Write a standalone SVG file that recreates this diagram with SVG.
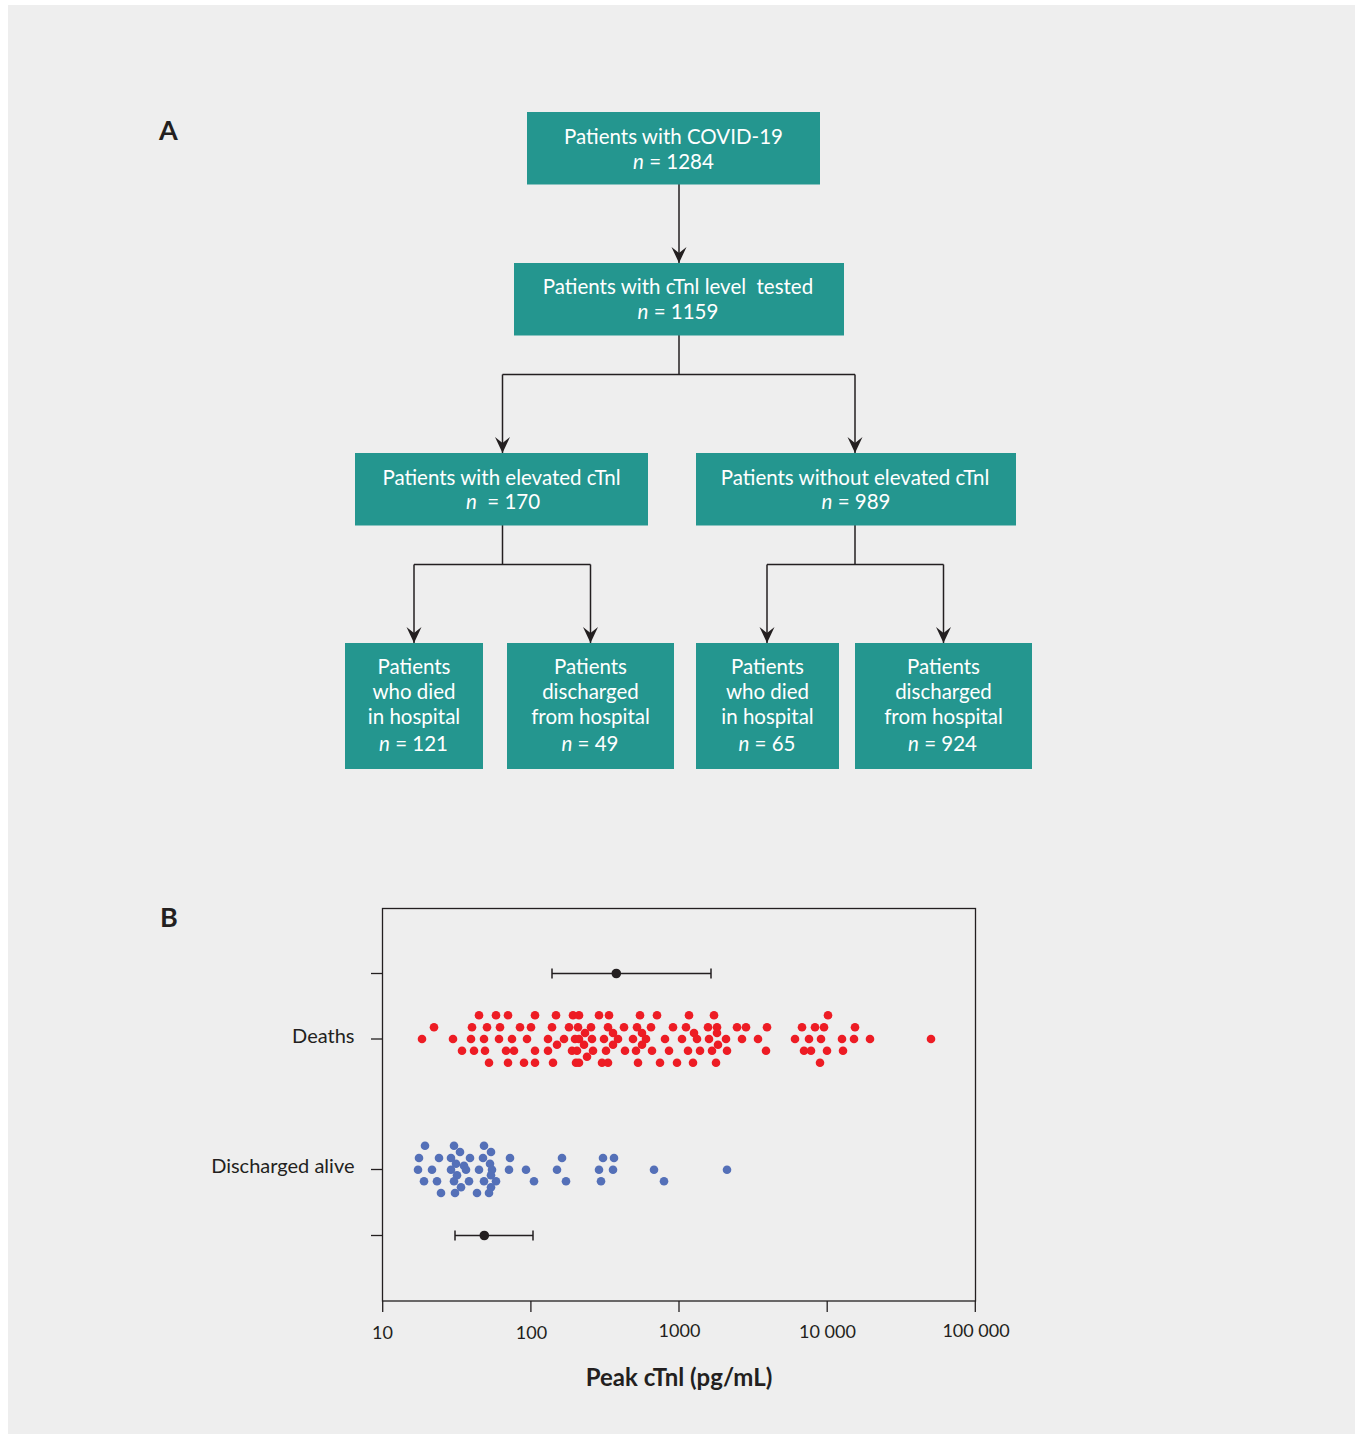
<svg xmlns="http://www.w3.org/2000/svg" width="1355" height="1434" viewBox="0 0 1355 1434">
<defs>
<style>
.bg{fill:#eeeeee}
.box{fill:#24968f}
.bt{font-family:Lato,"Noto Sans","Liberation Sans",sans-serif;font-size:20.5px;fill:#ffffff;text-anchor:middle}
.it{font-style:italic}
.con{fill:none;stroke:#231f20;stroke-width:1.5}
.ax{fill:none;stroke:#231f20;stroke-width:1.3}
.lbl{font-family:Lato,"Noto Sans","Liberation Sans",sans-serif;font-size:20px;fill:#231f20}
.tick{font-family:Lato,"Noto Sans","Liberation Sans",sans-serif;font-size:18px;fill:#231f20;text-anchor:middle}
.pn{font-family:Lato,"Noto Sans","Liberation Sans",sans-serif;font-size:27px;font-weight:bold;fill:#231f20}
.xt{font-family:Lato,"Noto Sans","Liberation Sans",sans-serif;font-size:24px;font-weight:bold;fill:#231f20;text-anchor:middle}
.r{fill:#ed1c24}
.b{fill:#5470b8}
</style>
<marker id="ah" viewBox="0 -8 16 16" refX="16" refY="0" markerWidth="16" markerHeight="16" markerUnits="userSpaceOnUse" orient="auto">
<path d="M16,0 L0,-7.5 L6,0 L0,7.5 Z" fill="#231f20"/>
</marker>
</defs>
<rect x="0" y="0" width="1355" height="1434" fill="#ffffff"/>
<rect class="bg" x="8" y="5" width="1347" height="1429"/>

<text class="pn" x="159" y="140">A</text>
<text class="pn" x="160" y="927">B</text>

<g id="connectors">
<line class="con" x1="679" y1="184" x2="679" y2="263" marker-end="url(#ah)"/>
<polyline class="con" points="679,335 679,374.5"/>
<polyline class="con" points="502.5,374.5 855,374.5"/>
<line class="con" x1="502.5" y1="374.5" x2="502.5" y2="453" marker-end="url(#ah)"/>
<line class="con" x1="855" y1="374.5" x2="855" y2="453" marker-end="url(#ah)"/>
<polyline class="con" points="502.5,525 502.5,564.5"/>
<polyline class="con" points="414,564.5 590.5,564.5"/>
<line class="con" x1="414" y1="564.5" x2="414" y2="643" marker-end="url(#ah)"/>
<line class="con" x1="590.5" y1="564.5" x2="590.5" y2="643" marker-end="url(#ah)"/>
<polyline class="con" points="855,525 855,564.5"/>
<polyline class="con" points="767,564.5 943.5,564.5"/>
<line class="con" x1="767" y1="564.5" x2="767" y2="643" marker-end="url(#ah)"/>
<line class="con" x1="943.5" y1="564.5" x2="943.5" y2="643" marker-end="url(#ah)"/>
</g>

<g id="n-covid">
<rect class="box" x="527" y="112" width="293" height="72.5"/>
<text class="bt" x="673.5" y="144">Patients with COVID-19</text>
<text class="bt" x="673.5" y="168.5"><tspan class="it">n</tspan> = 1284</text>
</g>
<g id="n-tested">
<rect class="box" x="514" y="263" width="330" height="72.5"/>
<text class="bt" x="678" y="294" xml:space="preserve">Patients with cTnl level  tested</text>
<text class="bt" x="678" y="319"><tspan class="it">n</tspan> = 1159</text>
</g>
<g id="n-elevated">
<rect class="box" x="355" y="453" width="293" height="72.5"/>
<text class="bt" x="501.5" y="484.5">Patients with elevated cTnl</text>
<text class="bt" x="503" y="508.5" xml:space="preserve"><tspan class="it">n</tspan>  = 170</text>
</g>
<g id="n-notelevated">
<rect class="box" x="696" y="453" width="320" height="72.5"/>
<text class="bt" x="855" y="484.5">Patients without elevated cTnl</text>
<text class="bt" x="856" y="508.5"><tspan class="it">n</tspan> = 989</text>
</g>
<g id="n-e-died">
<rect class="box" x="345" y="643" width="138" height="126"/>
<text class="bt" x="414" y="674">Patients</text>
<text class="bt" x="414" y="698.5">who died</text>
<text class="bt" x="414" y="724">in hospital</text>
<text class="bt" x="413.5" y="751"><tspan class="it">n</tspan> = 121</text>
</g>
<g id="n-e-disch">
<rect class="box" x="507" y="643" width="167" height="126"/>
<text class="bt" x="590.5" y="674">Patients</text>
<text class="bt" x="590.5" y="698.5">discharged</text>
<text class="bt" x="590.5" y="724">from hospital</text>
<text class="bt" x="590" y="751"><tspan class="it">n</tspan> = 49</text>
</g>
<g id="n-n-died">
<rect class="box" x="696" y="643" width="143" height="126"/>
<text class="bt" x="767.5" y="674">Patients</text>
<text class="bt" x="767.5" y="698.5">who died</text>
<text class="bt" x="767.5" y="724">in hospital</text>
<text class="bt" x="767" y="751"><tspan class="it">n</tspan> = 65</text>
</g>
<g id="n-n-disch">
<rect class="box" x="855" y="643" width="177" height="126"/>
<text class="bt" x="943.5" y="674">Patients</text>
<text class="bt" x="943.5" y="698.5">discharged</text>
<text class="bt" x="943.5" y="724">from hospital</text>
<text class="bt" x="942.5" y="751"><tspan class="it">n</tspan> = 924</text>
</g>

<g id="plot">
<rect x="382.5" y="908.5" width="593" height="392.5" fill="#ffffff" class="ax"/>
<g class="ax">
<line x1="371" y1="973.5" x2="382.5" y2="973.5"/>
<line x1="371" y1="1039" x2="382.5" y2="1039"/>
<line x1="371" y1="1169.5" x2="382.5" y2="1169.5"/>
<line x1="371" y1="1235.5" x2="382.5" y2="1235.5"/>
<line x1="382.7" y1="1301" x2="382.7" y2="1312"/>
<line x1="530.9" y1="1301" x2="530.9" y2="1312"/>
<line x1="679" y1="1301" x2="679" y2="1312"/>
<line x1="827.2" y1="1301" x2="827.2" y2="1312"/>
<line x1="975.3" y1="1301" x2="975.3" y2="1312"/>
</g>
<text class="lbl" x="354.5" y="1042.5" text-anchor="end">Deaths</text>
<text class="lbl" x="354.5" y="1173" text-anchor="end">Discharged alive</text>
<text class="tick" x="382.5" y="1339">10</text>
<text class="tick" x="531.5" y="1339">100</text>
<text class="tick" x="679.5" y="1337">1000</text>
<text class="tick" x="827.5" y="1338">10 000</text>
<text class="tick" x="976" y="1337">100 000</text>
<text class="xt" x="679" y="1386">Peak cTnl (pg/mL)</text>

<g id="errbars" stroke="#231f20" stroke-width="1.5" fill="none">
<line x1="552" y1="973.5" x2="711" y2="973.5"/>
<line x1="552" y1="968.5" x2="552" y2="978.5"/>
<line x1="711" y1="968.5" x2="711" y2="978.5"/>
<line x1="455" y1="1235.5" x2="533" y2="1235.5"/>
<line x1="455" y1="1230.5" x2="455" y2="1240.5"/>
<line x1="533" y1="1230.5" x2="533" y2="1240.5"/>
</g>
<circle cx="616.3" cy="973.5" r="4.8" fill="#231f20"/>
<circle cx="484.3" cy="1235.5" r="4.8" fill="#231f20"/>

<g id="deaths" class="r">
<circle cx="479" cy="1015.3" r="4.3"/><circle cx="496" cy="1015.3" r="4.3"/><circle cx="508" cy="1015.3" r="4.3"/><circle cx="535" cy="1015.3" r="4.3"/><circle cx="556" cy="1015.3" r="4.3"/><circle cx="573" cy="1015.3" r="4.3"/><circle cx="579" cy="1015.3" r="4.3"/><circle cx="599" cy="1015.3" r="4.3"/><circle cx="609" cy="1015.3" r="4.3"/><circle cx="640" cy="1015.3" r="4.3"/><circle cx="657" cy="1015.3" r="4.3"/><circle cx="689" cy="1015.3" r="4.3"/><circle cx="714" cy="1015.3" r="4.3"/><circle cx="828" cy="1015.3" r="4.3"/>
<circle cx="434" cy="1027.3" r="4.3"/><circle cx="472" cy="1027.3" r="4.3"/><circle cx="487" cy="1027.3" r="4.3"/><circle cx="500" cy="1027.3" r="4.3"/><circle cx="520" cy="1027.3" r="4.3"/><circle cx="531" cy="1027.3" r="4.3"/><circle cx="552" cy="1027.3" r="4.3"/><circle cx="569" cy="1027.3" r="4.3"/><circle cx="578" cy="1027.3" r="4.3"/><circle cx="591" cy="1027.3" r="4.3"/><circle cx="608" cy="1027.3" r="4.3"/><circle cx="624" cy="1027.3" r="4.3"/><circle cx="637" cy="1027.3" r="4.3"/><circle cx="651" cy="1027.3" r="4.3"/><circle cx="673" cy="1027.3" r="4.3"/><circle cx="686" cy="1027.3" r="4.3"/><circle cx="708" cy="1027.3" r="4.3"/><circle cx="717" cy="1027.3" r="4.3"/><circle cx="737" cy="1027.3" r="4.3"/><circle cx="746" cy="1027.3" r="4.3"/><circle cx="767" cy="1027.3" r="4.3"/><circle cx="802" cy="1027.3" r="4.3"/><circle cx="815" cy="1027.3" r="4.3"/><circle cx="824" cy="1027.3" r="4.3"/><circle cx="855" cy="1027.3" r="4.3"/>
<circle cx="585" cy="1033" r="4.3"/><circle cx="613" cy="1033" r="4.3"/><circle cx="642" cy="1033" r="4.3"/><circle cx="694" cy="1033" r="4.3"/><circle cx="717" cy="1033" r="4.3"/>
<circle cx="422" cy="1039" r="4.3"/><circle cx="453" cy="1039" r="4.3"/><circle cx="471" cy="1039" r="4.3"/><circle cx="484" cy="1039" r="4.3"/><circle cx="499" cy="1039" r="4.3"/><circle cx="512" cy="1039" r="4.3"/><circle cx="527" cy="1039" r="4.3"/><circle cx="548" cy="1039" r="4.3"/><circle cx="564" cy="1039" r="4.3"/><circle cx="575" cy="1039" r="4.3"/><circle cx="579" cy="1039" r="4.3"/><circle cx="592" cy="1039" r="4.3"/><circle cx="604" cy="1039" r="4.3"/><circle cx="618" cy="1039" r="4.3"/><circle cx="633" cy="1039" r="4.3"/><circle cx="646" cy="1039" r="4.3"/><circle cx="665" cy="1039" r="4.3"/><circle cx="682" cy="1039" r="4.3"/><circle cx="697" cy="1039" r="4.3"/><circle cx="709" cy="1039" r="4.3"/><circle cx="726" cy="1039" r="4.3"/><circle cx="742" cy="1039" r="4.3"/><circle cx="758" cy="1039" r="4.3"/><circle cx="795" cy="1039" r="4.3"/><circle cx="809" cy="1039" r="4.3"/><circle cx="821" cy="1039" r="4.3"/><circle cx="842" cy="1039" r="4.3"/><circle cx="854" cy="1039" r="4.3"/><circle cx="870" cy="1039" r="4.3"/><circle cx="931" cy="1039" r="4.3"/>
<circle cx="557" cy="1044.7" r="4.3"/><circle cx="584" cy="1044.7" r="4.3"/><circle cx="613" cy="1044.7" r="4.3"/><circle cx="642" cy="1044.7" r="4.3"/><circle cx="718" cy="1044.7" r="4.3"/>
<circle cx="462" cy="1050.7" r="4.3"/><circle cx="474" cy="1050.7" r="4.3"/><circle cx="485" cy="1050.7" r="4.3"/><circle cx="506" cy="1050.7" r="4.3"/><circle cx="514" cy="1050.7" r="4.3"/><circle cx="535" cy="1050.7" r="4.3"/><circle cx="548" cy="1050.7" r="4.3"/><circle cx="572" cy="1050.7" r="4.3"/><circle cx="577" cy="1050.7" r="4.3"/><circle cx="593" cy="1050.7" r="4.3"/><circle cx="606" cy="1050.7" r="4.3"/><circle cx="625" cy="1050.7" r="4.3"/><circle cx="636" cy="1050.7" r="4.3"/><circle cx="652" cy="1050.7" r="4.3"/><circle cx="669" cy="1050.7" r="4.3"/><circle cx="688" cy="1050.7" r="4.3"/><circle cx="700" cy="1050.7" r="4.3"/><circle cx="712" cy="1050.7" r="4.3"/><circle cx="727" cy="1050.7" r="4.3"/><circle cx="766" cy="1050.7" r="4.3"/><circle cx="804" cy="1050.7" r="4.3"/><circle cx="811" cy="1050.7" r="4.3"/><circle cx="827" cy="1050.7" r="4.3"/><circle cx="843" cy="1050.7" r="4.3"/>
<circle cx="587" cy="1056.7" r="4.3"/>
<circle cx="489" cy="1062.7" r="4.3"/><circle cx="508" cy="1062.7" r="4.3"/><circle cx="524" cy="1062.7" r="4.3"/><circle cx="535" cy="1062.7" r="4.3"/><circle cx="553" cy="1062.7" r="4.3"/><circle cx="576" cy="1062.7" r="4.3"/><circle cx="579" cy="1062.7" r="4.3"/><circle cx="602" cy="1062.7" r="4.3"/><circle cx="608" cy="1062.7" r="4.3"/><circle cx="638" cy="1062.7" r="4.3"/><circle cx="660" cy="1062.7" r="4.3"/><circle cx="677" cy="1062.7" r="4.3"/><circle cx="693" cy="1062.7" r="4.3"/><circle cx="716" cy="1062.7" r="4.3"/><circle cx="820" cy="1062.7" r="4.3"/>
</g>

<g id="discharged" class="b">
<circle cx="425" cy="1145.7" r="4.3"/><circle cx="454" cy="1145.7" r="4.3"/><circle cx="484" cy="1145.7" r="4.3"/>
<circle cx="460" cy="1152" r="4.3"/><circle cx="491" cy="1152" r="4.3"/>
<circle cx="419" cy="1158" r="4.3"/><circle cx="439" cy="1158" r="4.3"/><circle cx="451" cy="1158" r="4.3"/><circle cx="470" cy="1158" r="4.3"/><circle cx="483" cy="1158" r="4.3"/><circle cx="510" cy="1158" r="4.3"/><circle cx="562" cy="1158" r="4.3"/><circle cx="603" cy="1158" r="4.3"/><circle cx="614" cy="1158" r="4.3"/>
<circle cx="456" cy="1163.7" r="4.3"/><circle cx="490" cy="1163.7" r="4.3"/><circle cx="464" cy="1165.7" r="4.3"/>
<circle cx="418" cy="1169.7" r="4.3"/><circle cx="432" cy="1169.7" r="4.3"/><circle cx="451" cy="1169.7" r="4.3"/><circle cx="466" cy="1169.7" r="4.3"/><circle cx="479" cy="1169.7" r="4.3"/><circle cx="492" cy="1169.7" r="4.3"/><circle cx="509" cy="1169.7" r="4.3"/><circle cx="526" cy="1169.7" r="4.3"/><circle cx="557" cy="1169.7" r="4.3"/><circle cx="599" cy="1169.7" r="4.3"/><circle cx="613" cy="1169.7" r="4.3"/><circle cx="654" cy="1169.7" r="4.3"/><circle cx="727" cy="1169.7" r="4.3"/>
<circle cx="457" cy="1175.3" r="4.3"/><circle cx="491" cy="1175.3" r="4.3"/>
<circle cx="424" cy="1181.3" r="4.3"/><circle cx="437" cy="1181.3" r="4.3"/><circle cx="454" cy="1181.3" r="4.3"/><circle cx="469" cy="1181.3" r="4.3"/><circle cx="484" cy="1181.3" r="4.3"/><circle cx="496" cy="1181.3" r="4.3"/><circle cx="534" cy="1181.3" r="4.3"/><circle cx="566" cy="1181.3" r="4.3"/><circle cx="601" cy="1181.3" r="4.3"/><circle cx="664" cy="1181.3" r="4.3"/>
<circle cx="461" cy="1187.3" r="4.3"/><circle cx="491" cy="1187.3" r="4.3"/>
<circle cx="441" cy="1193" r="4.3"/><circle cx="455" cy="1193" r="4.3"/><circle cx="477" cy="1193" r="4.3"/><circle cx="489" cy="1193" r="4.3"/>
</g>
</g>
</svg>
